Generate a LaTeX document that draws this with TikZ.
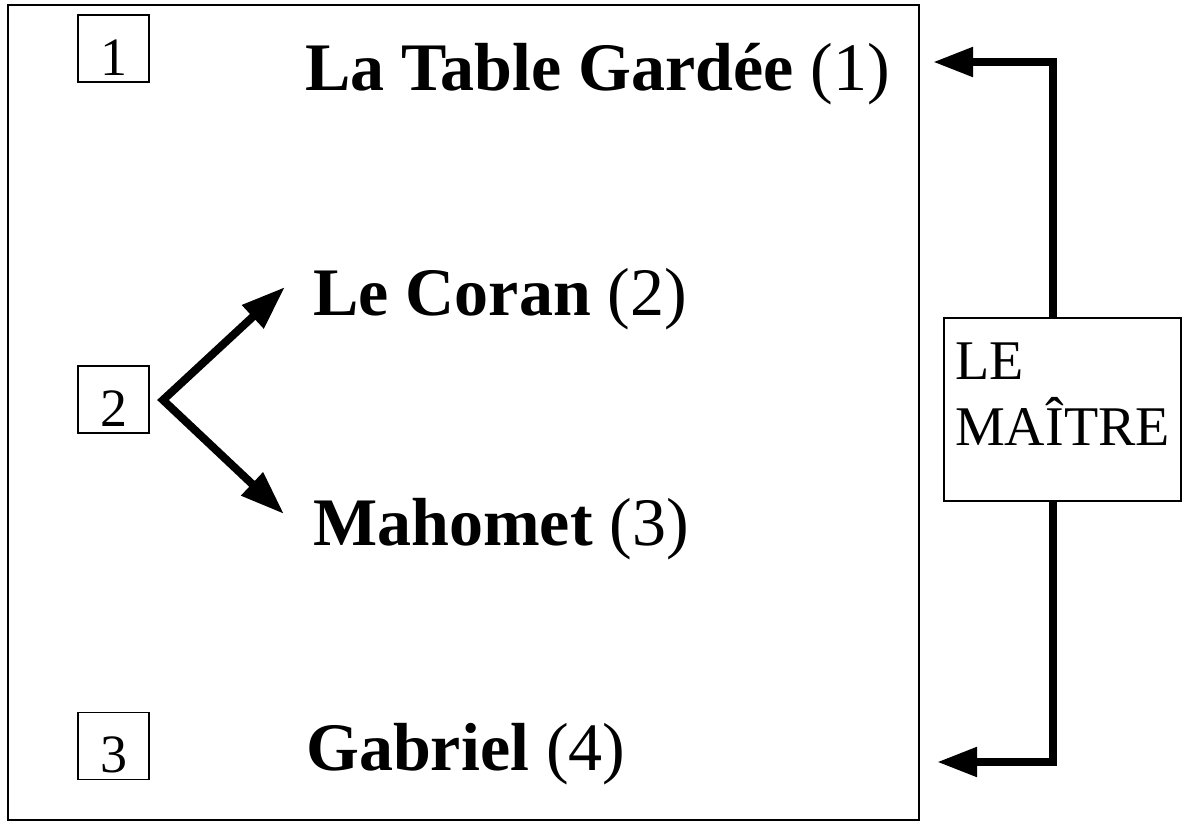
\documentclass[tikz,border=0pt]{standalone}
\usepackage{fontspec}
\setmainfont{Liberation Serif}
\usetikzlibrary{arrows.meta}
\begin{document}
\begin{tikzpicture}[x=1bp,y=-1bp,
  numbox/.style={draw,line width=1.8bp,minimum width=71bp,text height=60bp,text depth=7bp,inner sep=0pt,font=\fontsize{54bp}{60bp}\selectfont},
  title/.style={anchor=base west,inner sep=0pt,font=\fontsize{68bp}{76bp}\selectfont},
  bigarrow/.style={line width=8bp,line join=miter,-{Triangle[length=40bp,width=28bp]}},
  diagarrow/.style={line width=8bp,line join=miter,{Triangle[length=44bp,width=30bp]}-{Triangle[length=44bp,width=30bp]}}]
\useasboundingbox (0,0) rectangle (1182,825);
\draw[line width=1.8bp] (8,5) rectangle (919,820);
\node[numbox] (b1) at (113.5,48.5) {1};
\node[numbox] (b2) at (113.5,399.5) {2};
\node[numbox] (b3) at (113.5,746) {3};
\node[title] (t1) at (305,90) {\textbf{La Table Gardée} (1)};
\node[title] (t2) at (313,315) {\textbf{Le Coran} (2)};
\node[title] (t3) at (313,545) {\textbf{Mahomet} (3)};
\node[title] (t4) at (306,770) {\textbf{Gabriel} (4)};
\node[draw,line width=1.8bp,minimum width=237bp,minimum height=183bp,inner sep=0pt] (m) at (1062.5,409.5) {};
\node[anchor=base west,inner sep=0pt,align=left,font=\fontsize{56bp}{66bp}\selectfont] (mt) at (955,445) {LE\\MAÎTRE};
\coordinate (j) at (163,400);
\coordinate (a1) at (285,287);
\coordinate (a2) at (284,514);
\coordinate (c1) at (1053,62);
\coordinate (c2) at (1053,762);
\coordinate (e1) at (933,62);
\coordinate (e2) at (937,762);
\draw[diagarrow] (a1) -- (j) -- (a2);
\draw[bigarrow] (m.north -| c1) -- (c1) -- (e1);
\draw[bigarrow] (m.south -| c2) -- (c2) -- (e2);
\end{tikzpicture}
\end{document}
